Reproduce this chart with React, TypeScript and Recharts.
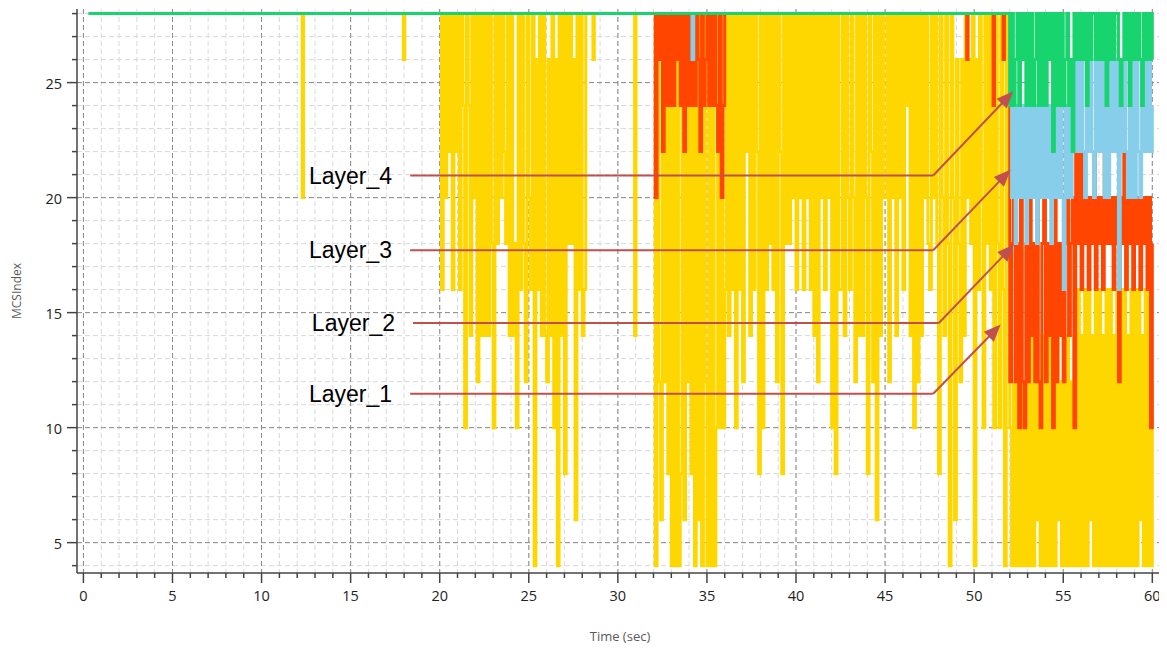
import React from 'react';
import { LineChart, Line, XAxis, YAxis, CartesianGrid, ReferenceLine } from 'recharts';

type Pt = [number, number];

// ---------- axis ticks ----------
const xMajorTicks = [0, 5, 10, 15, 20, 25, 30, 35, 40, 45, 50, 55, 60];
const xMinorTicks = [0, 1, 2, 3, 4, 5, 6, 7, 8, 9, 10, 11, 12, 13, 14, 15, 16, 17, 18, 19, 20, 21, 22, 23, 24, 25, 26, 27, 28, 29, 30,
  31, 32, 33, 34, 35, 36, 37, 38, 39, 40, 41, 42, 43, 44, 45, 46, 47, 48, 49, 50, 51, 52, 53, 54, 55, 56, 57, 58, 59, 60];
const yMajorTicks = [5, 10, 15, 20, 25];
const yMinorTicks = [4, 5, 6, 7, 8, 9, 10, 11, 12, 13, 14, 15, 16, 17, 18, 19, 20, 21, 22, 23, 24, 25, 26, 27, 28];

const SAMPLE_STEP = 0.1; // seconds between samples inside dense segments

// ---------- Layer_1 (yellow) ----------
const layer1SparseA: Pt[] = [[0.3, 28], [12.28, 20], [12.36, 28], [17.96, 26], [18.04, 28], [19.9, 28]];
const layer1DenseBStart = 20.0;
const layer1DenseB = [
  28, 16, 28, 20, 28, 22, 28, 16, 28, 22,
  28, 16, 28, 24, 10, 28, 24, 14, 28, 20,
  28, 12, 28, 14, 28, 14, 28, 14, 28, 18,
  10, 28, 18, 28, 20, 28, 22, 18, 28, 14,
  28, 14, 18, 10, 28, 16, 28, 18, 12, 28,
  20, 16, 28, 4, 26, 16, 28, 14, 28, 14,
  12, 26, 14, 28, 10, 26, 4, 28, 14, 28,
  8, 28, 18, 28, 18, 26, 6, 28, 16, 28,
  14, 16,
];
const layer1SparseC: Pt[] = [[28.2, 28], [28.6, 26], [28.68, 28], [30.94, 14], [31.02, 28], [31.9, 28]];
const layer1DenseDStart = 32.0;
const layer1DenseD = [
  28, 4, 28, 12, 6, 28, 12, 26, 8, 28,
  4, 28, 4, 28, 4, 8, 28, 6, 28, 12,
  28, 8, 28, 4, 28, 6, 28, 4, 28, 12,
  4, 28, 4, 28, 4, 10, 28, 10, 28, 10,
  16, 28, 14, 28, 16, 28, 10, 28, 16, 28,
  12, 28, 22, 28, 14, 28, 16, 28, 22, 8,
  28, 10, 28, 16, 28, 18, 28, 16, 28, 12,
  28, 22, 8, 28, 18, 28, 18, 28, 20, 28,
  16, 28, 20, 28, 16, 28, 20, 28, 16, 28,
  14, 28, 12, 28, 20, 28, 16, 28, 20, 28,
  10, 28, 8, 28, 16, 16, 28, 14, 28, 20,
  16, 28, 20, 12, 28, 14, 28, 14, 28, 20,
  8, 28, 22, 12, 28, 6, 28, 14, 28, 20,
  20, 28, 12, 28, 20, 28, 14, 28, 20, 28,
  16, 28, 24, 28, 14, 28, 10, 28, 12, 28,
  14, 28, 20, 28, 18, 16, 28, 20, 28, 18,
  8, 28, 20, 14, 28, 18, 4, 28, 20, 6,
  26, 18, 12, 26, 14, 28, 20, 26, 18, 28,
  4, 26, 16, 28, 20, 10, 28, 18, 28, 16,
  28, 10, 28, 18, 10, 28, 16, 4, 28, 18,
];
const layer1DenseEStart = 52.0;
const layer1DenseE = [
  10, 4, 12, 4, 14, 4, 12, 4, 12, 4,
  12, 4, 14, 4, 12, 6, 12, 4, 14, 4,
  12, 4, 14, 4, 12, 4, 14, 6, 12, 4,
  14, 4, 14, 4, 12, 4, 14, 4, 16, 4,
  14, 4, 16, 4, 16, 6, 14, 4, 16, 4,
  16, 4, 14, 4, 16, 4, 16, 4, 14, 4,
  16, 4, 16, 4, 16, 4, 14, 4, 16, 4,
  16, 4, 16, 6, 14, 4, 16, 4, 16, 4,
  12,
];

// ---------- Layer_2 (orange red) ----------
const layer2SparseA: Pt[] = [[0.3, 28], [31.9, 28]];
const layer2DenseBStart = 32.0;
const layer2DenseB = [
  28, 20, 28, 26, 28, 22, 28, 24, 28, 24,
  28, 24, 28, 26, 28, 24, 28, 22, 28, 24,
  28, 24, 28, 24, 28, 26, 22, 28, 24, 26,
  28, 24, 28, 24, 28, 24, 22, 28, 20, 24,
  28,
];
const layer2SparseC: Pt[] = [[36.1, 28], [49.58, 26], [49.66, 28], [51.06, 24], [51.14, 28],
  [51.62, 26], [51.7, 28], [51.9, 28]];
const layer2DenseDStart = 52.0;
const layer2DenseD = [
  12, 18, 20, 12, 18, 10, 20, 12, 10, 18,
  12, 20, 14, 18, 12, 20, 12, 10, 18, 20,
  12, 18, 14, 18, 10, 20, 12, 18, 14, 18,
  12, 18, 20, 14, 18, 20, 10, 22, 18, 22,
  16, 22, 18, 20, 16, 20, 18, 22, 16, 20,
  18, 20, 16, 22, 18, 22, 18, 20, 16, 20,
  18, 12, 20, 18, 22, 16, 22, 18, 20, 16,
  20, 18, 20, 16, 20, 18, 20, 16, 20, 10,
  18,
];

// ---------- Layer_3 (sky blue) ----------
const layer3SparseA: Pt[] = [[0.3, 28], [34.16, 26], [34.26, 28], [51.9, 28]];
const layer3DenseBStart = 52.0;
const layer3DenseB = [
  24, 20, 24, 18, 24, 20, 24, 20, 24, 18,
  24, 20, 24, 20, 24, 18, 24, 20, 24, 20,
  24, 20, 24, 18, 24, 20, 24, 20, 24, 20,
  16, 24, 20, 24, 20, 24, 26, 22, 26, 22,
  26, 22, 20, 26, 22, 26, 22, 20, 26, 22,
  26, 22, 26, 20, 26, 20, 26, 22, 26, 22,
  26, 16, 26, 22, 26, 22, 20, 26, 20, 26,
  20, 26, 22, 20, 26, 22, 26, 22, 26, 22,
  24,
];

// ---------- Layer_4 (green) ----------
const layer4SparseA: Pt[] = [[0.3, 28], [51.9, 28]];
const layer4DenseBStart = 52.0;
const layer4DenseB = [
  24, 28, 24, 26, 28, 24, 28, 26, 28, 24,
  28, 24, 28, 24, 26, 28, 24, 28, 24, 28,
  24, 28, 26, 28, 22, 28, 24, 28, 24, 28,
  24, 26, 28, 24, 26, 22, 28, 26, 28, 26,
  28, 26, 28, 24, 28, 26, 28, 28, 26, 28,
  26, 28, 26, 28, 24, 28, 26, 28, 26, 28,
  28, 26, 24, 26, 28, 26, 28, 24, 28, 26,
  28, 26, 28, 26, 24, 28, 26, 28, 26, 28,
  26,
];

// ---------- annotations (data coordinates) ----------
const annotations = [
  { label: 'Layer_4', y: 20.96, xStart: 18.34, xBend: 47.7, tipX: 52.2, tipY: 24.62 },
  { label: 'Layer_3', y: 17.71, xStart: 18.34, xBend: 47.7, tipX: 52.05, tipY: 21.22 },
  { label: 'Layer_2', y: 14.55, xStart: 18.5, xBend: 48.02, tipX: 52.24, tipY: 17.96 },
  { label: 'Layer_1', y: 11.47, xStart: 18.34, xBend: 47.7, tipX: 51.49, tipY: 14.48 },
];

// ---------- table building ----------
type Row = { t: number; v: number };
const fromPairs = (pts: Pt[]): Row[] => pts.map(([t, v]) => ({ t, v }));
const fromSamples = (start: number, values: number[]): Row[] =>
  values.map((v, i) => ({ t: Math.round((start + i * SAMPLE_STEP) * 1000) / 1000, v }));

const layer1Data = [
  ...fromPairs(layer1SparseA),
  ...fromSamples(layer1DenseBStart, layer1DenseB),
  ...fromPairs(layer1SparseC),
  ...fromSamples(layer1DenseDStart, layer1DenseD),
  ...fromSamples(layer1DenseEStart, layer1DenseE),
];
const layer2Data = [
  ...fromPairs(layer2SparseA),
  ...fromSamples(layer2DenseBStart, layer2DenseB),
  ...fromPairs(layer2SparseC),
  ...fromSamples(layer2DenseDStart, layer2DenseD),
];
const layer3Data = [...fromPairs(layer3SparseA), ...fromSamples(layer3DenseBStart, layer3DenseB)];
const layer4Data = [...fromPairs(layer4SparseA), ...fromSamples(layer4DenseBStart, layer4DenseB)];

// ---------- styling ----------
const AXIS_COLOR = '#444';
const TICK_FONT = '"Open Sans", "Noto Sans", sans-serif';
const ANN_COLOR = '#C0504D';
const X_TICK_SIZE = 10;
const X_TICK_MARGIN = 6;
const Y_TICK_SIZE = 10;
const Y_TICK_MARGIN = 4;

const XTick = (props: any) => {
  const { x, y, payload } = props;
  const v = payload.value as number;
  const major = v % 5 === 0;
  const axisY = y - X_TICK_SIZE - X_TICK_MARGIN;
  return (
    <g>
      <line x1={x} x2={x} y1={axisY} y2={axisY + (major ? 10 : 5)} stroke={AXIS_COLOR} strokeWidth={1.5} />
      {major && (
        <text x={x} y={axisY + 22} textAnchor="middle" dominantBaseline="central" fill="#222"
          style={{ fontFamily: TICK_FONT, fontSize: 14.5 }}>
          {v}
        </text>
      )}
    </g>
  );
};

const YTick = (props: any) => {
  const { x, y, payload } = props;
  const v = payload.value as number;
  const major = v % 5 === 0;
  const axisX = x + Y_TICK_SIZE + Y_TICK_MARGIN;
  return (
    <g>
      <line x1={axisX - (major ? 10 : 5)} x2={axisX} y1={y} y2={y} stroke={AXIS_COLOR} strokeWidth={1.5} />
      {major && (
        <text x={axisX - 15} y={y + 1} textAnchor="end" dominantBaseline="central" fill="#222"
          style={{ fontFamily: TICK_FONT, fontSize: 14.5 }}>
          {v}
        </text>
      )}
    </g>
  );
};

const labelledSegment = (label: string) => (p: any) => (
  <g>
    <line x1={p.x1} y1={p.y1} x2={p.x2} y2={p.y2} stroke={ANN_COLOR} strokeWidth={2} />
    <text x={p.x1 - 18} y={p.y1} textAnchor="end" dominantBaseline="central" fill="#000"
      style={{ fontFamily: 'Arial, "Liberation Sans", sans-serif', fontSize: 23 }}>
      {label}
    </text>
  </g>
);

const arrowSegment = (p: any) => {
  const dx = p.x2 - p.x1;
  const dy = p.y2 - p.y1;
  const len = Math.hypot(dx, dy) || 1;
  const ux = dx / len;
  const uy = dy / len;
  const L = 17;
  const W = 7;
  const bx = p.x2 - ux * L;
  const by = p.y2 - uy * L;
  const pts = `${p.x2},${p.y2} ${bx - uy * W},${by + ux * W} ${bx + uy * W},${by - ux * W}`;
  return (
    <g>
      <line x1={p.x1} y1={p.y1} x2={bx + ux * 2} y2={by + uy * 2} stroke={ANN_COLOR} strokeWidth={2} />
      <polygon points={pts} fill={ANN_COLOR} />
    </g>
  );
};

const X_DOMAIN: [number, number] = [-0.36, 60.6];
const Y_DOMAIN: [number, number] = [3.68, 28.2];

export default function App() {
  return (
    <div style={{ width: 1159, height: 640, fontFamily: TICK_FONT }}>
      <LineChart width={1159} height={640} margin={{ top: 1, right: 4, bottom: 3, left: 0 }}>
        <CartesianGrid verticalValues={xMinorTicks} horizontalValues={yMinorTicks} stroke="#d9d9d9" strokeDasharray="5 3" />
        <CartesianGrid verticalValues={xMajorTicks} horizontalValues={yMajorTicks} stroke="#8c8c8c" strokeDasharray="5 3" />
        <XAxis
          type="number"
          dataKey="t"
          domain={X_DOMAIN}
          ticks={xMinorTicks}
          interval={0}
          tickLine={false}
          tickSize={X_TICK_SIZE}
          tickMargin={X_TICK_MARGIN}
          tick={<XTick />}
          axisLine={{ stroke: AXIS_COLOR, strokeWidth: 1.5 }}
          height={72}
          label={{ value: 'Time (sec)', position: 'insideBottom', offset: 4, fill: '#5a5a5a', fontSize: 13 }}
        />
        <YAxis
          type="number"
          domain={Y_DOMAIN}
          ticks={yMinorTicks}
          interval={0}
          tickLine={false}
          tickSize={Y_TICK_SIZE}
          tickMargin={Y_TICK_MARGIN}
          tick={<YTick />}
          axisLine={{ stroke: AXIS_COLOR, strokeWidth: 1.5 }}
          width={69}
          label={{ value: 'MCSIndex', angle: -90, position: 'insideLeft', offset: 9, fill: '#5a5a5a', fontSize: 12, style: { textAnchor: 'middle' } }}
        />
        <XAxis xAxisId="top" orientation="top" type="number" domain={X_DOMAIN} height={0} tick={false} tickLine={false}
          axisLine={{ stroke: '#a6a6a6', strokeWidth: 1 }} />
        <YAxis yAxisId="right" orientation="right" type="number" domain={Y_DOMAIN} width={0} tick={false} tickLine={false}
          axisLine={{ stroke: '#a6a6a6', strokeWidth: 1 }} />

        <Line data={layer1Data} dataKey="v" name="Layer_1" type="stepAfter" stroke="#FFD700" strokeWidth={3}
          dot={false} activeDot={false} isAnimationActive={false} />
        <Line data={layer2Data} dataKey="v" name="Layer_2" type="stepAfter" stroke="#FF4500" strokeWidth={3}
          dot={false} activeDot={false} isAnimationActive={false} />
        <Line data={layer3Data} dataKey="v" name="Layer_3" type="stepAfter" stroke="#87CEEB" strokeWidth={3}
          dot={false} activeDot={false} isAnimationActive={false} />
        <Line data={layer4Data} dataKey="v" name="Layer_4" type="stepAfter" stroke="#18D46F" strokeWidth={3}
          dot={false} activeDot={false} isAnimationActive={false} />

        {annotations.map((a) => (
          <ReferenceLine key={a.label + '-h'} segment={[{ x: a.xStart, y: a.y }, { x: a.xBend, y: a.y }]}
            shape={labelledSegment(a.label)} />
        ))}
        {annotations.map((a) => (
          <ReferenceLine key={a.label + '-d'} segment={[{ x: a.xBend, y: a.y }, { x: a.tipX, y: a.tipY }]}
            shape={arrowSegment} />
        ))}
      </LineChart>
    </div>
  );
}
